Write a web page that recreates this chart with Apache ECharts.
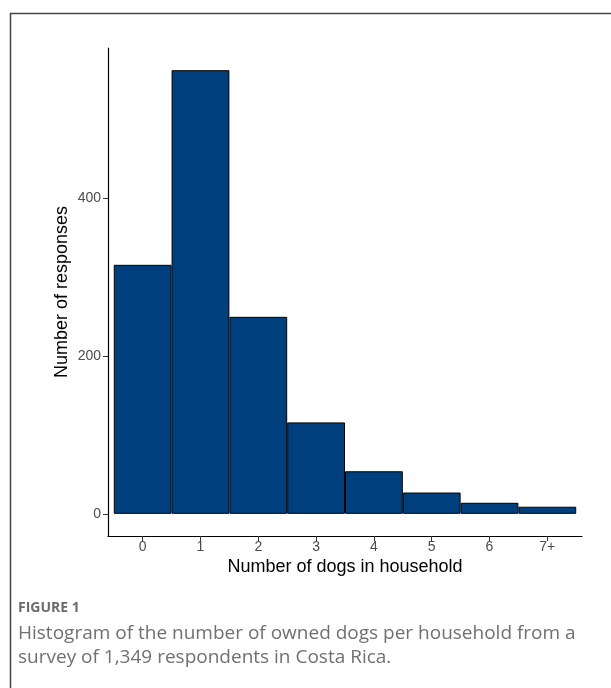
<!DOCTYPE html>
<html>
<head>
<meta charset="utf-8">
<script src="https://cdn.jsdelivr.net/npm/echarts@6/dist/echarts.min.js"></script>
<style>
  html, body { margin: 0; padding: 0; background: #fff; }
  #chart { width: 611px; height: 688px; }
</style>
</head>
<body>
<div id="chart"></div>
<script>
// number of dogs per household (categories) and response counts
var dogCategories = ["0", "1", "2", "3", "4", "5", "6", "7+"];
var responseCounts = [316, 563, 250, 116, 54, 27, 14, 9];
var yTickValues = [0, 200, 400];

var myChart = echarts.init(document.getElementById("chart"));
window.onresize = myChart.resize;

var barData = [];
dogCategories.forEach(function (c, i) {
  barData.push([i, responseCounts[i]]);
});

var maxCount = Math.max.apply(null, responseCounts);
var pad = maxCount * 0.05; // ggplot style expansion
var xTickValues = dogCategories.map(function (c, i) { return i; });

var option = {
  backgroundColor: "#fff",
  animation: false,
  grid: {
    left: 108,
    right: 29,
    top: 48,
    bottom: 152,
    containLabel: false
  },
  xAxis: {
    type: "value",
    min: -0.6,
    max: dogCategories.length - 1 + 0.6,
    name: "Number of dogs in household",
    nameLocation: "middle",
    nameGap: 22,
    nameMoveOverlap: false,
    nameTextStyle: {
      color: "#000",
      fontSize: 18,
      fontFamily: "Liberation Sans"
    },
    axisLine: { show: true, onZero: false, lineStyle: { color: "#000", width: 1.2 } },
    axisTick: {
      show: true,
      length: 5,
      customValues: xTickValues,
      lineStyle: { color: "#333" }
    },
    axisLabel: {
      customValues: xTickValues,
      formatter: function (v) { return dogCategories[v]; },
      color: "#4d4d4d",
      fontSize: 14,
      fontFamily: "Liberation Sans",
      margin: 4
    },
    splitLine: { show: false }
  },
  yAxis: {
    type: "value",
    min: -pad,
    max: maxCount + pad,
    name: "Number of responses",
    nameLocation: "middle",
    nameGap: 37,
    nameMoveOverlap: false,
    nameTextStyle: {
      color: "#000",
      fontSize: 18,
      fontFamily: "Liberation Sans"
    },
    axisLine: { show: true, onZero: false, lineStyle: { color: "#000", width: 1.2 } },
    axisTick: {
      show: true,
      length: 5,
      customValues: yTickValues,
      lineStyle: { color: "#333" }
    },
    axisLabel: {
      customValues: yTickValues,
      color: "#4d4d4d",
      fontSize: 14,
      fontFamily: "Liberation Sans",
      margin: 7
    },
    splitLine: { show: false }
  },
  series: [
    {
      type: "bar",
      data: barData,
      barWidth: 57.8,
      itemStyle: {
        color: "#003f7d",
        borderColor: "#000",
        borderWidth: 1
      }
    }
  ],
  graphic: [
    {
      type: "polyline",
      shape: { points: [[10.5, 688], [10.5, 13.5], [611, 13.5]] },
      style: { stroke: "#444", lineWidth: 1.5, fill: null }
    },
    {
      type: "text",
      left: 18,
      top: 601,
      style: {
        text: "FIGURE 1",
        fill: "#6b6b6b",
        font: "bold 14px 'Open Sans'"
      }
    },
    {
      type: "text",
      left: 18,
      top: 622,
      style: {
        text: "Histogram of the number of owned dogs per household from a\nsurvey of 1,349 respondents in Costa Rica.",
        fill: "#707070",
        font: "19px 'Open Sans'",
        lineHeight: 24
      }
    }
  ]
};

myChart.setOption(option);
</script>
</body>
</html>
